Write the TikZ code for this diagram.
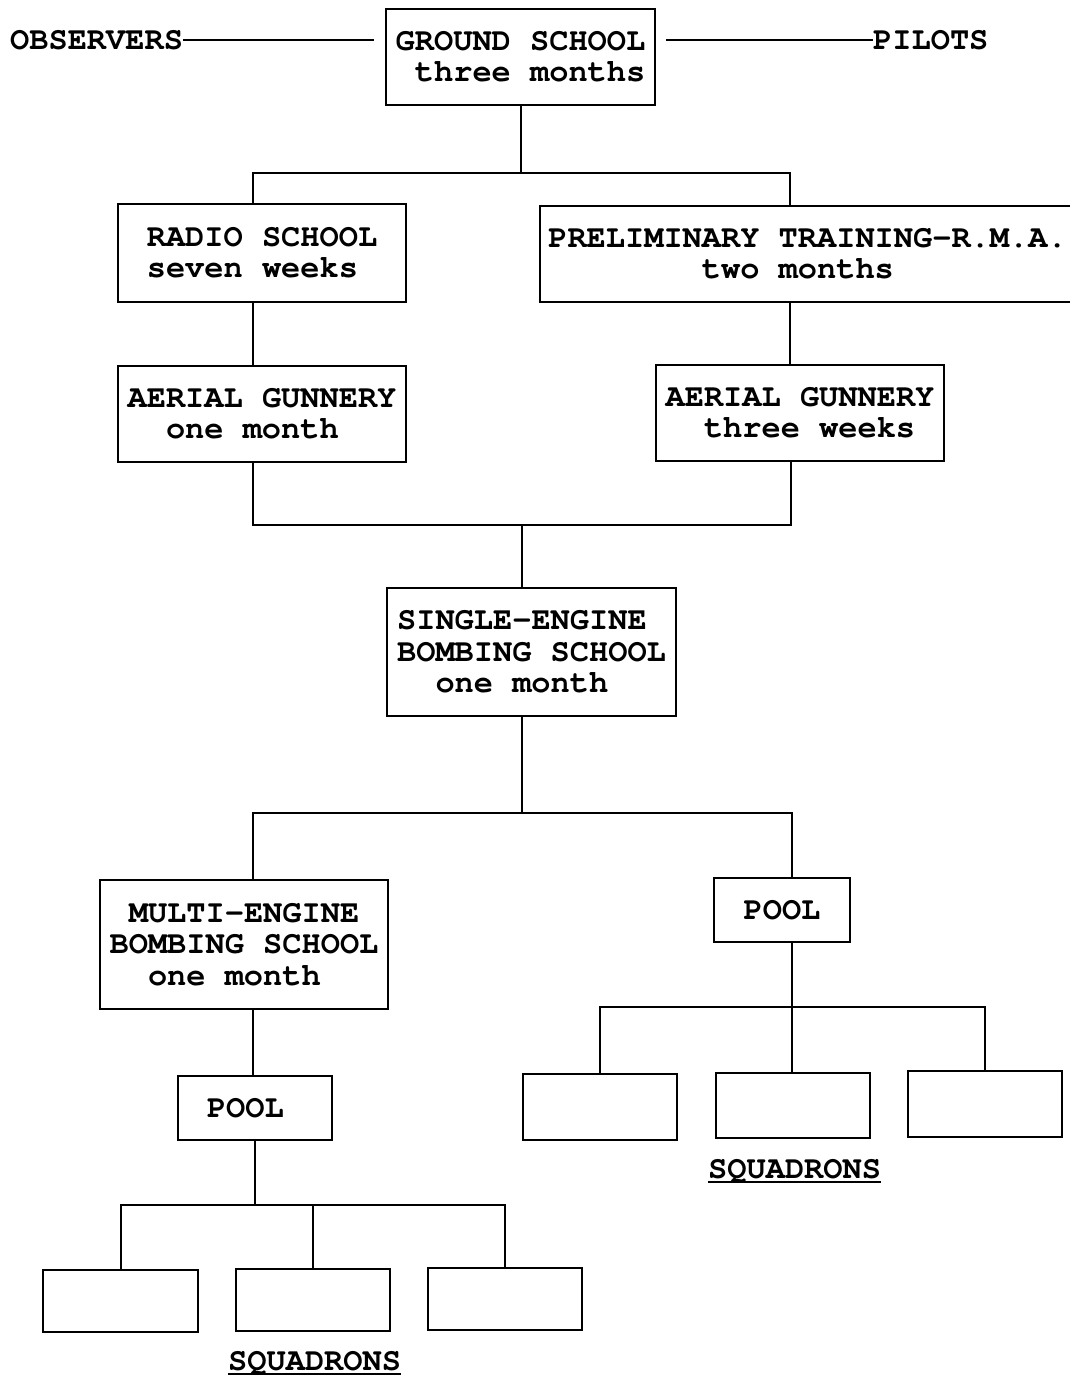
\documentclass[tikz,border=0pt]{standalone}
\usepackage[T1]{fontenc}
\newcommand\dfont{\fontfamily{pcr}\fontseries{b}\fontsize{32}{31.5}\selectfont}
\begin{document}
\begin{tikzpicture}[x=1pt,y=-1pt,
  box/.style={draw, line width=2.8pt, inner sep=0pt, align=left, font=\dfont},
  lab/.style={inner sep=0pt, font=\dfont},
  conn/.style={line width=2pt}]
\useasboundingbox (0,0) rectangle (1069,1379);
% boxes
\node[box, minimum width=269, minimum height=96] (gs) at (520.5,57) {GROUND SCHOOL\\\phantom{X}three months};
\node[box, minimum width=288, minimum height=98] (radio) at (262,253) {RADIO SCHOOL\\seven weeks};
\node[box, minimum width=535, minimum height=96] (prelim) at (807.5,254) {PRELIMINARY TRAINING-R.M.A.\\\phantom{XXXXXXXX}two months};
\node[box, minimum width=288, minimum height=96] (agl) at (262,414) {AERIAL GUNNERY\\\phantom{XX}one month};
\node[box, minimum width=288, minimum height=96] (agr) at (800,413) {AERIAL GUNNERY\\\phantom{XX}three weeks};
\node[box, minimum width=289, minimum height=128] (se) at (531.5,652) {SINGLE-ENGINE\\BOMBING SCHOOL\\\phantom{XX}one month};
\node[box, minimum width=288, minimum height=129] (me) at (244,944.5) {\phantom{X}MULTI-ENGINE\\BOMBING SCHOOL\\\phantom{XX}one month};
\node[box, minimum width=136, minimum height=64] (poolr) at (782,910) {POOL};
\node[box, minimum width=154, minimum height=64] (pooll) at (255,1108) {POOL\phantom{X}};
\node[box, minimum width=154, minimum height=66] (sqr1) at (600,1107) {};
\node[box, minimum width=154, minimum height=65] (sqr2) at (793,1105.5) {};
\node[box, minimum width=154, minimum height=66] (sqr3) at (985,1104) {};
\node[box, minimum width=155, minimum height=62] (sql1) at (120.5,1301) {};
\node[box, minimum width=154, minimum height=62] (sql2) at (313,1300) {};
\node[box, minimum width=154, minimum height=62] (sql3) at (505,1299) {};
% labels
\node[lab, anchor=west] (obs) at (10,40) {OBSERVERS};
\node[lab, anchor=west] (pil) at (873,40) {PILOTS};
\node[lab, anchor=base west] (sqrlab) at (708,1178) {SQUADRONS};
\node[lab, anchor=base west] (sqllab) at (228,1370) {SQUADRONS};
% junction points
\coordinate (L1) at (253,173);
\coordinate (R1) at (790,173);
\coordinate (L2) at (253,525);
\coordinate (R2) at (791,525);
\coordinate (C2) at (522,525);
\coordinate (L3) at (253,813);
\coordinate (R3) at (792,813);
\coordinate (C3) at (522,813);
\coordinate (R4) at (792,1007);
\coordinate (L5) at (255,1205);
% connectors
\draw[conn] (obs.east) -- ([xshift=-11pt]gs.west |- obs.east);
\draw[conn] ([xshift=10pt]gs.east |- pil.west) -- (pil.west);
\draw[conn] (gs.south) -- (gs.south |- L1);
\draw[conn] (radio.north -| L1) -- (L1) -- (R1) -- (prelim.north -| R1);
\draw[conn] (radio.south -| L1) -- (agl.north -| L1);
\draw[conn] (prelim.south -| R1) -- (agr.north -| R1);
\draw[conn] (agl.south -| L2) -- (L2) -- (R2) -- (agr.south -| R2);
\draw[conn] (C2) -- (se.north -| C2);
\draw[conn] (se.south -| C3) -- (C3);
\draw[conn] (me.north -| L3) -- (L3) -- (R3) -- (poolr.north -| R3);
\draw[conn] (me.south -| L3) -- (pooll.north -| L3);
\draw[conn] (poolr.south -| R4) -- (sqr2.north -| R4);
\draw[conn] (sqr1.north) |- (R4) -| (sqr3.north);
\draw[conn] (pooll.south) -- (pooll.south |- L5);
\draw[conn] (sql1.north) |- (L5) -| (sql3.north);
\draw[conn] (sql2.north) -- (sql2.north |- L5);
% underlines
\draw[conn] ([yshift=-4pt]sqrlab.base west) -- ([yshift=-4pt]sqrlab.base east);
\draw[conn] ([yshift=-4pt]sqllab.base west) -- ([yshift=-4pt]sqllab.base east);
\end{tikzpicture}
\end{document}
